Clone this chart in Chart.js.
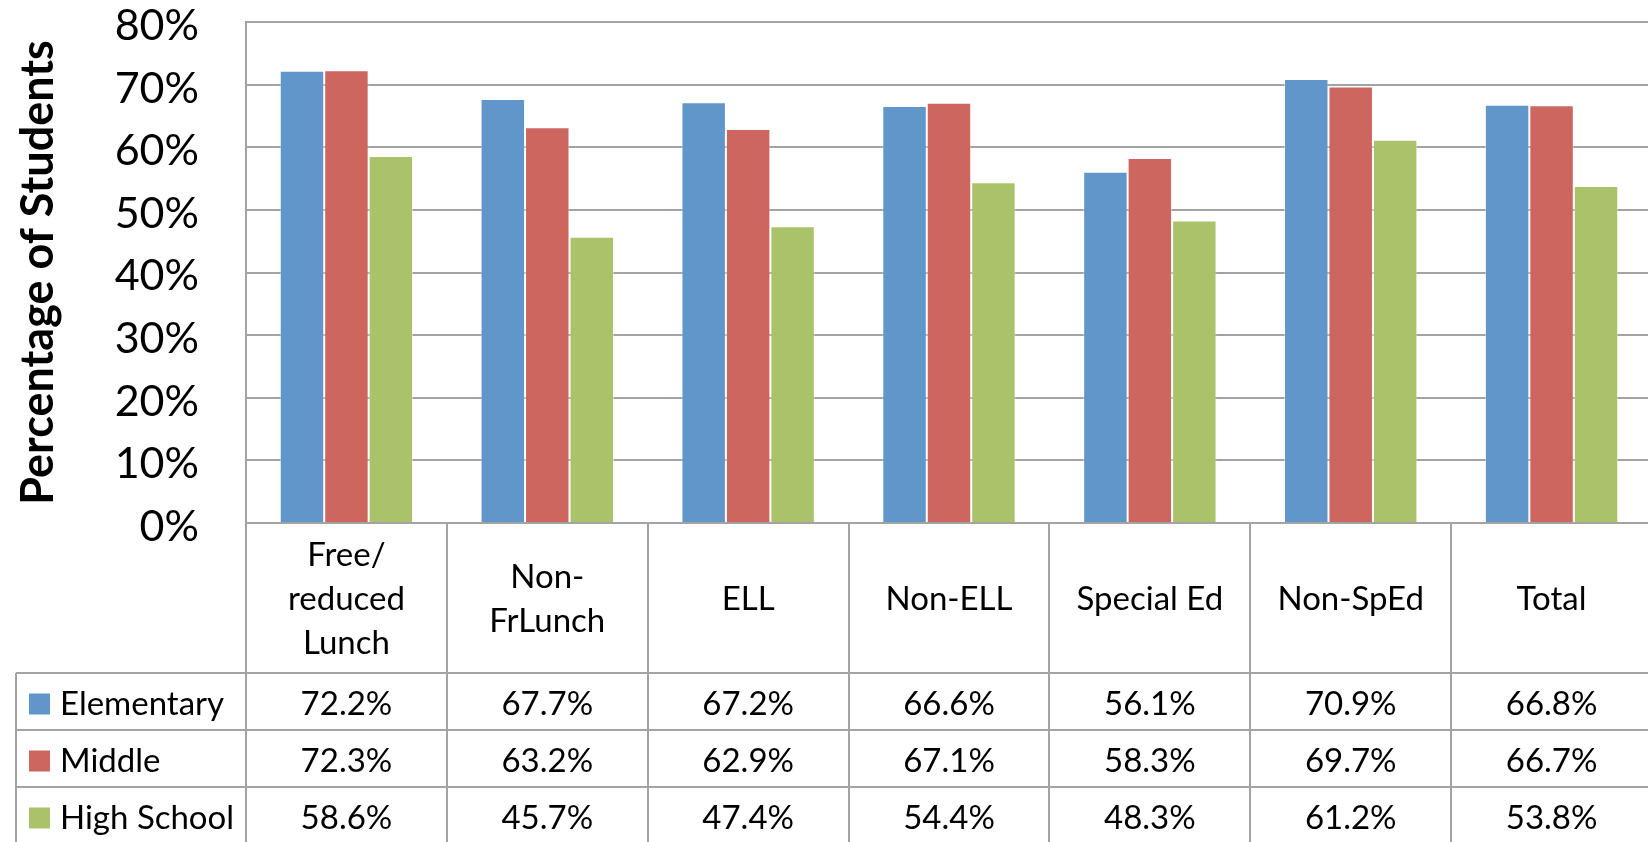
<!DOCTYPE html>
<html><head><meta charset="utf-8">
<script src="https://cdn.jsdelivr.net/npm/chart.js@4"></script>
<style>html,body{margin:0;padding:0;overflow:hidden;background:#fff}#wrap{width:1654px;height:842px}</style>
</head><body><div id="wrap"><canvas id="c" width="1654" height="842"></canvas></div>
<script>
const categories = ['Free/\nreduced\nLunch', 'Non-\nFrLunch', 'ELL', 'Non-ELL', 'Special Ed', 'Non-SpEd', 'Total'];
const seriesNames = ['Elementary', 'Middle', 'High School'];
const elementary = [72.2, 67.7, 67.2, 66.6, 56.1, 70.9, 66.8];
const middle = [72.3, 63.2, 62.9, 67.1, 58.3, 69.7, 66.7];
const highSchool = [58.6, 45.7, 47.4, 54.4, 48.3, 61.2, 53.8];
const colors = ['#6096C9', '#CD665F', '#AAC36B'];
const yTicks = [0, 10, 20, 30, 40, 50, 60, 70, 80];

const FONT = 'Lato, "Open Sans", sans-serif';
const GRID = '#a3a3a3';

const tablePlugin = {
  id: 'dataTable',
  afterDraw(chart) {
    const ctx = chart.ctx, ca = chart.chartArea, xs = chart.scales.x;
    const n = categories.length;
    const cw = (ca.right - ca.left) / n;
    const headerBottom = ca.bottom + 150;
    const rowH = 57;
    const bottom = 842;
    ctx.save();
    ctx.strokeStyle = GRID; ctx.lineWidth = 2;
    ctx.beginPath();
    for (let i = 0; i <= n; i++) {
      const x = Math.round(xs.getPixelForValue(i) - cw / 2);
      ctx.moveTo(x, ca.bottom); ctx.lineTo(x, bottom);
    }
    ctx.moveTo(16, headerBottom); ctx.lineTo(16, bottom);
    for (let r = 0; r < 3; r++) {
      const y = Math.round(headerBottom + r * rowH);
      ctx.moveTo(16, y); ctx.lineTo(ca.right + 10, y);
    }
    ctx.stroke();
    ctx.fillStyle = '#000';
    ctx.font = '33px ' + FONT;
    ctx.textAlign = 'center'; ctx.textBaseline = 'middle';
    const hc = (ca.bottom + headerBottom) / 2 + 1;
    const lh = 44;
    categories.forEach((c, i) => {
      const lines = c.split('\n');
      const cx = xs.getPixelForValue(i);
      lines.forEach((ln, k) => ctx.fillText(ln, cx, hc + (k - (lines.length - 1) / 2) * lh));
    });
    chart.data.datasets.forEach((ds, r) => {
      const cy = headerBottom + r * rowH + rowH / 2 + 3;
      ctx.fillStyle = ds.backgroundColor;
      ctx.fillRect(29, cy - 11, 21, 21);
      ctx.fillStyle = '#000';
      ctx.textAlign = 'left';
      ctx.fillText(ds.label, 60, cy);
      ctx.textAlign = 'center';
      ds.data.forEach((v, i) => ctx.fillText(v.toFixed(1) + '%', xs.getPixelForValue(i), cy));
    });
    ctx.restore();
  }
};

new Chart(document.getElementById('c'), {
  type: 'bar',
  data: {
    labels: categories,
    datasets: [
      { label: seriesNames[0], data: elementary, backgroundColor: colors[0], borderColor: 'rgba(255,255,255,0.45)' },
      { label: seriesNames[1], data: middle, backgroundColor: colors[1], borderColor: 'rgba(255,255,255,0.45)' },
      { label: seriesNames[2], data: highSchool, backgroundColor: colors[2], borderColor: 'rgba(255,255,255,0.45)' }
    ]
  },
  options: {
    responsive: false,
    animation: false,
    devicePixelRatio: 1,
    layout: { padding: { left: 0, top: 22, right: 2, bottom: 319 } },
    plugins: { legend: { display: false }, tooltip: { enabled: false } },
    datasets: { bar: { categoryPercentage: 0.664, barPercentage: 1.0, borderWidth: { top: 1, left: 1, right: 1, bottom: 0 } } },
    scales: {
      x: { display: false },
      y: {
        min: 0, max: 80,
        afterFit(s) { s.width = 246; s.paddingTop = 0; s.paddingBottom = 0; },
        afterBuildTicks(s) { s.ticks = yTicks.map(v => ({ value: v })); },
        grid: { color: GRID, lineWidth: 2, drawTicks: false },
        border: { color: GRID, width: 2 },
        ticks: { padding: 47, labelOffset: 4, color: '#000', font: { family: FONT, size: 43, lineHeight: 0.01 }, callback: v => v + '%' },
        title: { display: true, text: 'Percentage of Students', color: '#000',
                 font: { family: FONT, size: 45, weight: 'bold' }, padding: { top: 11, bottom: 0 } }
      }
    }
  },
  plugins: [tablePlugin]
});
</script></body></html>
